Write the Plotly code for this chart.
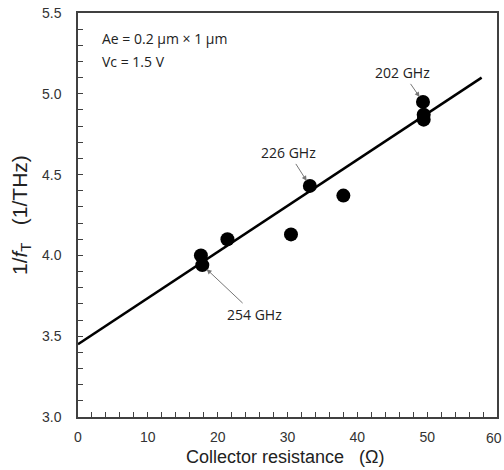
import plotly.graph_objects as go

# Data
rc = [17.6, 17.8, 21.4, 30.5, 33.2, 38.0, 49.4, 49.5, 49.5]
inv_ft = [4.00, 3.94, 4.10, 4.13, 4.43, 4.37, 4.95, 4.87, 4.84]
fit_x = [0.0, 57.8]
fit_y = [3.45, 5.10]
x_max = 60
# labelled points: (index into data, label, pixel offset of text)
labels = ["202 GHz", "226 GHz", "254 GHz"]
label_idx = [6, 4, 1]
label_ax = [-20, -21, 52]
label_ay = [-29, -33, 49]

fig = go.Figure()
fig.add_trace(go.Scatter(x=fit_x, y=fit_y, mode="lines",
                         line=dict(color="black", width=2.5), showlegend=False))
fig.add_trace(go.Scatter(x=rc, y=inv_ft, mode="markers",
                         marker=dict(color="black", size=14, line=dict(width=0)),
                         showlegend=False))

tick_font = dict(family="Liberation Sans, Arial", size=14, color="#333")
ann_font = dict(family="Open Sans, Liberation Sans, Arial", size=14, color="#222")
annotations = []
for lab, i, ax, ay in zip(labels, label_idx, label_ax, label_ay):
    annotations.append(dict(x=rc[i], y=inv_ft[i], xref="x", yref="y", text=lab,
                            showarrow=True, ax=ax, ay=ay, arrowhead=2, arrowsize=1,
                            arrowwidth=1, arrowcolor="#777", standoff=6,
                            font=ann_font))
annotations.append(dict(xref="paper", yref="paper", x=(100 - 78) / 419, y=1 - (38 - 13) / 404,
                        xanchor="left", yanchor="middle", showarrow=False,
                        text="Ae = 0.2 μm × 1 μm", font=dict(family="Open Sans, Liberation Sans", size=14, color="#222")))
annotations.append(dict(xref="paper", yref="paper", x=(100 - 78) / 419, y=1 - (61 - 13) / 404,
                        xanchor="left", yanchor="middle", showarrow=False,
                        text="Vc = 1.5 V", font=dict(family="Open Sans, Liberation Sans", size=14, color="#222")))
# last x tick label (plotly hides it because it overflows the page edge)
annotations.append(dict(x=1, xref="paper", y=0, yref="paper", xanchor="right", yanchor="top",
                        xshift=7, yshift=-11, showarrow=False, text=str(x_max), font=tick_font))
# Axis titles
annotations.append(dict(xref="paper", yref="paper", x=(21 - 78) / 419, y=0.5,
                        xanchor="center", yanchor="middle", textangle=-90, showarrow=False,
                        text="1/<i>f</i><sub>T</sub>   (1/THz)",
                        font=dict(family="Liberation Sans, Arial", size=21, color="#222")))
annotations.append(dict(xref="paper", yref="paper", x=0.495, y=-(457 - 417) / 404,
                        xanchor="center", yanchor="middle", showarrow=False,
                        text="Collector resistance   (Ω)",
                        font=dict(family="Liberation Sans, Arial", size=18, color="#222")))

axis_common = dict(showline=True, linecolor="#404040", linewidth=1.5, mirror=True,
                   showgrid=False, zeroline=False, ticks="inside", ticklen=5,
                   tickcolor="#404040", tickwidth=1, automargin=False,
                   tickfont=tick_font)

fig.update_layout(
    width=504, height=470,
    margin=dict(l=78, r=7, t=13, b=53, autoexpand=False),
    plot_bgcolor="white", paper_bgcolor="white",
    xaxis=dict(range=[0, x_max], dtick=10, tick0=0,
               minor=dict(ticks="inside", dtick=2, ticklen=5, tickcolor="#404040"),
               ticklabelstandoff=6, **axis_common),
    yaxis=dict(range=[3.0, 5.5], dtick=0.5, tick0=3.0, tickformat=".1f",
               minor=dict(ticks="inside", dtick=0.1, ticklen=5, tickcolor="#404040"),
               ticklabelstandoff=12, **axis_common),
    annotations=annotations,
)

fig.write_html("out.html")
